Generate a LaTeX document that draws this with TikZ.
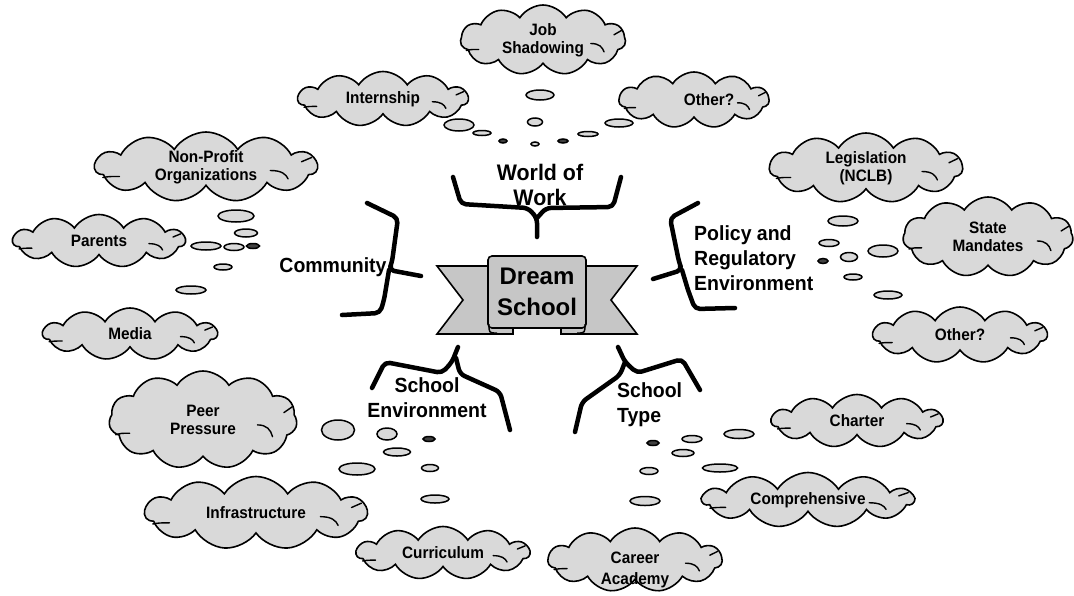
\documentclass[tikz,border=0pt]{standalone}
\usepackage{fontspec}
\setmainfont{Liberation Sans}
\newfontfamily\cloudfont{Liberation Sans}[FakeStretch=0.93]
\newfontfamily\labfont{Liberation Sans}[FakeStretch=0.95]
\usetikzlibrary{shapes.symbols,shapes.geometric}
\definecolor{cloudgray}{HTML}{D9D9D9}
\definecolor{bannergray}{HTML}{C6C6C6}
\tikzset{
  cloudbox/.style={cloud, cloud puffs=11, cloud puff arc=115, cloud ignores aspect,
    draw, line width=1.6pt, fill=cloudgray, align=center, inner sep=0pt,
    font=\cloudfont\fontsize{16.5}{18}\selectfont\bfseries},
  cloudtext/.style={inner sep=0pt, align=center,
    font=\cloudfont\fontsize{16.5}{21}\selectfont\bfseries},
  curl/.style={line width=1.4pt, line cap=round},
  bub/.style={draw, line width=1.5pt, fill=cloudgray},
  dbub/.style={draw, line width=1.5pt, fill=black!75},
  bracepath/.style={line width=4.5pt, line cap=round, line join=round, rounded corners=5pt},
  biglab/.style={inner sep=0pt, align=center, font=\labfont\fontsize{20.5}{25}\selectfont\bfseries},
  worldlab/.style={inner sep=0pt, align=center, font=\labfont\fontsize{22.5}{25}\selectfont\bfseries},
  dreambox/.style={draw, line width=1.6pt, fill=bannergray, rounded corners=4pt,
    minimum width=98pt, minimum height=72pt, inner sep=0pt, align=center,
    font=\fontsize{24}{31}\selectfont\bfseries}
}
\newcommand\cloudat[6]{%
  \node[cloudbox, minimum width=#4pt, minimum height=#5pt] (#1) at (#2,#3) {#6};
  \begin{scope}[shift={(#2,#3)}, xscale=#4/2, yscale=#5/2]
    \draw[curl] (-0.93,0.3) .. controls (-0.87,0.27) .. (-0.78,0.27);
    \draw[curl] (0.58,0.1) .. controls (0.68,0.1) and (0.72,0.2) .. (0.74,0.34);
    \draw[curl] (0.86,-0.15) -- (0.95,-0.27);
  \end{scope}}
\begin{document}
\begin{tikzpicture}[x=1pt,y=-1pt]
\useasboundingbox (0,0) rectangle (1074,595);

% ---- clouds
\cloudat{job}{543}{40}{165}{70}{Job\\Shadowing}
\cloudat{intern}{383}{99}{170}{55}{Internship}
\cloudat{otherw}{694}{100}{150}{56}{\hspace*{30pt}Other?}
\cloudat{nonprofit}{206}{167}{222}{70}{Non-Profit\\Organizations}
\cloudat{parents}{99}{241}{172}{53}{Parents}
\cloudat{media}{130}{334}{174}{52}{Media}
\cloudat{peer}{203}{420}{188}{98}{Peer\\Pressure}
\cloudat{infra}{256}{513}{222}{73}{Infrastructure}
\cloudat{curric}{443}{553}{173}{53}{Curriculum}
\cloudat{legis}{866}{168}{193}{70}{Legislation\\(NCLB)}
\cloudat{state}{988}{237}{170}{80}{State\\Mandates}
\cloudat{otherp}{960}{335}{174}{56}{Other?}
\cloudat{charter}{857}{421}{171}{53}{Charter}
\cloudat{compr}{808}{500}{211}{55}{Comprehensive}
\cloudat{career}{635}{560}{174}{64}{}
\node[cloudtext] (careertext) at (635,570) {Career\\Academy};

% ---- thought bubbles: World of Work
\draw[bub] (540,95) ellipse [x radius=14pt, y radius=5pt];
\draw[bub] (535,122) ellipse [x radius=7.5pt, y radius=4pt];
\draw[bub] (535,144) ellipse [x radius=4pt, y radius=2pt];
\draw[bub] (459,125) ellipse [x radius=15pt, y radius=6pt];
\draw[bub] (482,133) ellipse [x radius=9pt, y radius=2.5pt];
\draw[dbub] (503,141) ellipse [x radius=4pt, y radius=2pt];
\draw[bub] (619,123) ellipse [x radius=14pt, y radius=4pt];
\draw[bub] (588,134) ellipse [x radius=10pt, y radius=2.5pt];
\draw[dbub] (563,141) ellipse [x radius=5pt, y radius=2pt];
% Community
\draw[bub] (236,216) ellipse [x radius=18pt, y radius=6pt];
\draw[bub] (246,233) ellipse [x radius=11.5pt, y radius=4pt];
\draw[bub] (206,246) ellipse [x radius=15pt, y radius=4pt];
\draw[bub] (234,247) ellipse [x radius=10pt, y radius=3.5pt];
\draw[dbub] (253,246) ellipse [x radius=6.5pt, y radius=2.5pt];
\draw[bub] (223,267) ellipse [x radius=9pt, y radius=3pt];
\draw[bub] (191,290) ellipse [x radius=15pt, y radius=4pt];
% Policy
\draw[bub] (843,221) ellipse [x radius=15pt, y radius=5pt];
\draw[bub] (829,243) ellipse [x radius=10pt, y radius=3.5pt];
\draw[bub] (849,257) ellipse [x radius=8.5pt, y radius=4.5pt];
\draw[bub] (883,251) ellipse [x radius=15pt, y radius=6pt];
\draw[bub] (853,277) ellipse [x radius=9pt, y radius=3pt];
\draw[dbub] (823,261) ellipse [x radius=5pt, y radius=2.5pt];
\draw[bub] (888,295) ellipse [x radius=14pt, y radius=4pt];
% School Environment
\draw[bub] (338,430) ellipse [x radius=16.5pt, y radius=10pt];
\draw[bub] (387,434) ellipse [x radius=10pt, y radius=6pt];
\draw[dbub] (429,439) ellipse [x radius=6pt, y radius=2.5pt];
\draw[bub] (397,452) ellipse [x radius=13.5pt, y radius=4pt];
\draw[bub] (357,469) ellipse [x radius=18pt, y radius=6pt];
\draw[bub] (430,468) ellipse [x radius=8.5pt, y radius=3.5pt];
\draw[bub] (435,499) ellipse [x radius=14pt, y radius=4pt];
% School Type
\draw[dbub] (653,443) ellipse [x radius=6pt, y radius=2.5pt];
\draw[bub] (692,439) ellipse [x radius=10pt, y radius=3.5pt];
\draw[bub] (739,434) ellipse [x radius=15pt, y radius=4.5pt];
\draw[bub] (683,453) ellipse [x radius=11pt, y radius=3.5pt];
\draw[bub] (649,471) ellipse [x radius=9pt, y radius=3.5pt];
\draw[bub] (720,468) ellipse [x radius=17.5pt, y radius=4pt];
\draw[bub] (645,501) ellipse [x radius=15pt, y radius=4.5pt];

% ---- Dream School banner
\draw[line width=1.6pt, line join=miter, fill=bannergray]
  (437,266) -- (513,266) -- (513,334) -- (437,334) -- (463,300) -- cycle;
\draw[line width=1.6pt, line join=miter, fill=bannergray]
  (637,266) -- (561,266) -- (561,334) -- (637,334) -- (611,300) -- cycle;
\node[dreambox] (dream) at (537,292) {Dream\\School};
\draw[line width=1.4pt] (489,324) .. controls (489,333) .. (497,333);
\draw[line width=1.4pt] (585,324) .. controls (585,333) .. (577,333);

% ---- labels
\node[worldlab] (world) at (540,185) {World of\\Work};
\node[biglab] (community) at (333,267) {Community};
\node[biglab, align=left, anchor=west] (policy) at (694,258) {Policy and\\Regulatory\\Environment};
\node[biglab] (schoolenv) at (427,398) {School\\Environment};
\node[biglab, align=left, anchor=west] (schooltype) at (617,405) {School\\Type};

% ---- braces
\draw[bracepath] (453,177) -- (461,204) -- (528,208) -- (537,218) -- (537,237);
\draw[bracepath] (537,218) -- (546,208) -- (613,207) -- (621,177);
\draw[bracepath] (367,203) -- (398,218) -- (392,262) -- (389,270) -- (421,276);
\draw[bracepath] (389,270) -- (384,300) -- (380,313) -- (342,315);
\draw[bracepath] (698,203) -- (670,218) -- (679,262) -- (682,270) -- (653,279);
\draw[bracepath] (682,270) -- (688,290) -- (695,309) -- (735,308);
\draw[bracepath] (372,388) -- (385,362) -- (442,373) -- (452,362) -- (458,347);
\draw[bracepath] (456,358) -- (460,374) -- (500,392) -- (510,430);
\draw[bracepath] (618,347) -- (625,362) -- (637,373) -- (682,359) -- (700,390);
\draw[bracepath] (625,362) -- (620,375) -- (582,402) -- (575,432);
\end{tikzpicture}
\end{document}
